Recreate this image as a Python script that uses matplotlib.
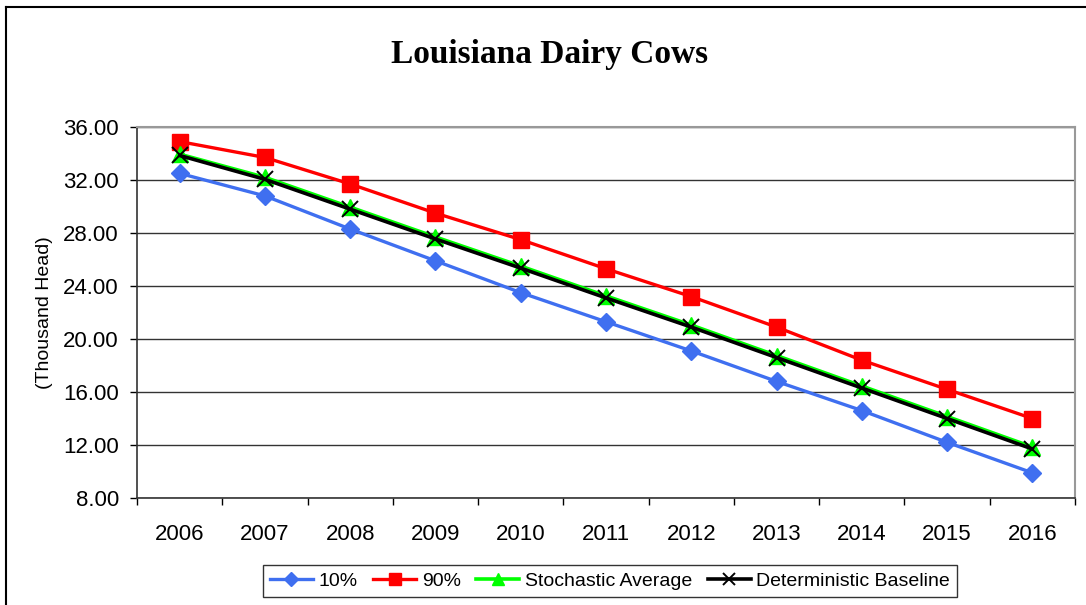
import matplotlib
matplotlib.use("Agg")
import matplotlib.pyplot as plt
from matplotlib.lines import Line2D

years = ["2006", "2007", "2008", "2009", "2010", "2011", "2012", "2013", "2014", "2015", "2016"]
p10 = [32.5, 30.8, 28.3, 25.9, 23.5, 21.3, 19.1, 16.8, 14.6, 12.2, 9.9]
p90 = [34.9, 33.7, 31.7, 29.5, 27.5, 25.3, 23.2, 20.9, 18.4, 16.2, 14.0]
stoch = [33.95, 32.2, 29.95, 27.7, 25.5, 23.25, 21.05, 18.75, 16.45, 14.15, 11.85]
determ = [33.85, 32.05, 29.8, 27.55, 25.35, 23.1, 20.9, 18.6, 16.3, 14.0, 11.7]
yticks = [8, 12, 16, 20, 24, 28, 32, 36]

W, H = 1086, 605
fig = plt.figure(figsize=(W / 100, H / 100), dpi=100)
fig.patch.set_facecolor("white")

# figure border (only top and left visible)
fig.add_artist(Line2D([6 / W, 1086 / W], [1 - 7 / H, 1 - 7 / H], color="black", lw=1.5, transform=fig.transFigure))
fig.add_artist(Line2D([6 / W, 6 / W], [0, 1 - 7 / H], color="black", lw=1.5, transform=fig.transFigure))

L, R, T, B = 137, 1075, 127, 498
ax = fig.add_axes([L / W, 1 - B / H, (R - L) / W, (B - T) / H])

x = list(range(len(years)))
ax.plot(x, p10, color="#3F6FF0", lw=2.4, marker="D", ms=9, label="10%")
ax.plot(x, p90, color="#FF0000", lw=2.4, marker="s", ms=11, label="90%")
ax.plot(x, stoch, color="#00FF00", lw=2.6, marker="^", ms=11, label="Stochastic Average")
ax.plot(x, determ, color="black", lw=2.6, marker="x", ms=11, mew=1.4, label="Deterministic Baseline")

ax.set_xlim(-0.5, len(years) - 0.5)
ax.set_ylim(8, 36)
ax.set_yticks(yticks)
ax.set_yticklabels([f"{v:.2f}" for v in yticks], fontsize=16, family="Liberation Sans")
ax.set_xticks(x)
ax.set_xticklabels(years, fontsize=16, family="Liberation Sans")
ax.tick_params(axis="x", which="major", length=0, pad=19)
ax.set_xticks([i + 0.5 for i in range(-1, len(years))], minor=True)
ax.tick_params(axis="x", which="minor", length=5, width=1, direction="out")
ax.tick_params(axis="y", length=5, width=1, direction="out", pad=8)

ax.grid(axis="y", color="#333333", lw=1)
ax.set_axisbelow(True)
for s in ["top", "right"]:
    ax.spines[s].set_color("#999999")
    ax.spines[s].set_linewidth(1.5)
for s in ["left", "bottom"]:
    ax.spines[s].set_color("#333333")
    ax.spines[s].set_linewidth(1.2)

ax.set_ylabel("(Thousand Head)", fontsize=14, family="Liberation Sans", labelpad=7)

fig.text(550 / W, 1 - 55 / H, "Louisiana Dairy Cows", ha="center", va="center",
         fontsize=24, fontweight="bold", family="Liberation Serif")

leg = fig.legend(loc="center", bbox_to_anchor=(610 / W, 1 - 581 / H), ncol=4,
                 prop={"family": "Liberation Sans", "size": 14}, frameon=True,
                 fancybox=False, edgecolor="black", handlelength=2.2, handletextpad=0.3,
                 columnspacing=0.8, borderpad=0.35, markerscale=0.8)
leg.get_frame().set_linewidth(1)

fig.savefig("out.png", dpi=100)
